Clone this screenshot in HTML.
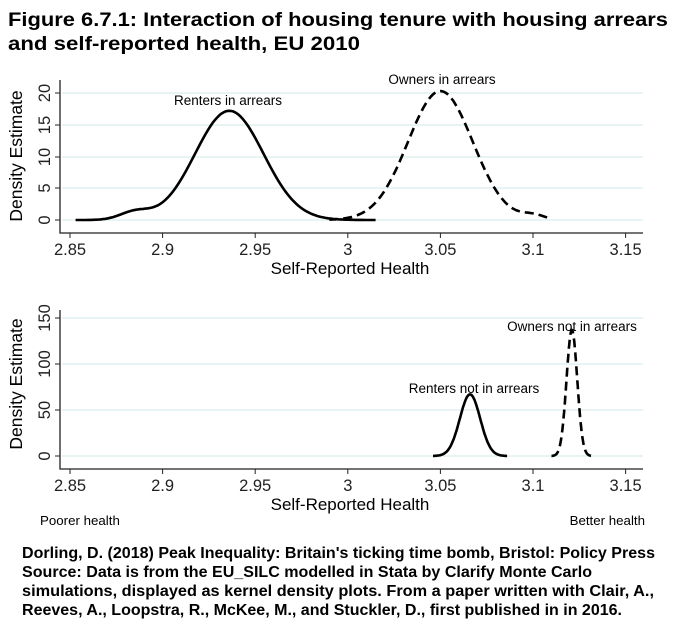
<!DOCTYPE html>
<html><head><meta charset="utf-8"><style>
body{margin:0;background:#fff;width:685px;height:624px;overflow:hidden}
svg text{font-family:"Liberation Sans",Arial,sans-serif}
</style></head><body>
<svg id="s" width="685" height="624" xmlns="http://www.w3.org/2000/svg">
<text x="8" y="26" font-size="19.5" font-weight="bold" textLength="660" lengthAdjust="spacingAndGlyphs">Figure 6.7.1: Interaction of housing tenure with housing arrears</text>
<text x="8" y="50" font-size="19.5" font-weight="bold" textLength="352" lengthAdjust="spacingAndGlyphs">and self-reported health, EU 2010</text>
<g stroke="#dbecee" stroke-width="1.2">
<line x1="62" x2="643" y1="220" y2="220"/><line x1="62" x2="643" y1="188" y2="188"/><line x1="62" x2="643" y1="157" y2="157"/><line x1="62" x2="643" y1="125" y2="125"/><line x1="62" x2="643" y1="93" y2="93"/>
<line x1="62" x2="643" y1="456" y2="456"/><line x1="62" x2="643" y1="410" y2="410"/><line x1="62" x2="643" y1="364" y2="364"/><line x1="62" x2="643" y1="318" y2="318"/>
</g>
<g stroke="#222" stroke-width="1.3" fill="none">
<path d="M60 80V233H643"/><path d="M60 310V469H643"/>
</g>
<g id="ticks" font-size="16.5" text-anchor="middle" fill="#222"></g>
<text x="350" y="274" font-size="17" text-anchor="middle">Self-Reported Health</text>
<text x="350" y="510" font-size="17" text-anchor="middle">Self-Reported Health</text>
<text x="22" y="156" font-size="17.5" text-anchor="middle" transform="rotate(-90 22 156)">Density Estimate</text>
<text x="22" y="384" font-size="17.5" text-anchor="middle" transform="rotate(-90 22 384)">Density Estimate</text>
<text x="228" y="105" font-size="13.5" text-anchor="middle">Renters in arrears</text>
<text x="442" y="84" font-size="13.5" text-anchor="middle">Owners in arrears</text>
<text x="474" y="393" font-size="13.5" text-anchor="middle">Renters not in arrears</text>
<text x="572" y="331" font-size="13.5" text-anchor="middle">Owners not in arrears</text>
<text x="40" y="525" font-size="13.3">Poorer health</text>
<text x="645" y="525" font-size="13.3" text-anchor="end">Better health</text>
<g font-size="15.5" font-weight="bold">
<text x="22" y="558" textLength="633" lengthAdjust="spacingAndGlyphs">Dorling, D. (2018) Peak Inequality: Britain's ticking time bomb, Bristol: Policy Press</text>
<text x="22" y="577" textLength="570" lengthAdjust="spacingAndGlyphs">Source: Data is from the EU_SILC modelled in Stata by Clarify Monte Carlo</text>
<text x="22" y="596" textLength="632" lengthAdjust="spacingAndGlyphs">simulations, displayed as kernel density plots. From a paper written with Clair, A.,</text>
<text x="22" y="615" textLength="600" lengthAdjust="spacingAndGlyphs">Reeves, A., Loopstra, R., McKee, M., and Stuckler, D., first published in in 2016.</text>
</g>
<g id="curves" fill="none" stroke="#000" stroke-width="2.6"></g>
</svg>
<script>
const NS="http://www.w3.org/2000/svg";
const X=v=>70+(v-2.85)/0.05*92.6;
const tk=document.getElementById('ticks');
function t(x,y,s,a,rot){const e=document.createElementNS(NS,'text');e.setAttribute('x',x);e.setAttribute('y',y);e.textContent=s;if(rot)e.setAttribute('transform',`rotate(-90 ${x} ${y})`);tk.appendChild(e);}
["2.85","2.9","2.95","3","3.05","3.1","3.15"].forEach(s=>{const x=X(+s);t(x,255,s);t(x,491,s);
const l=document.createElementNS(NS,'path');l.setAttribute('d',`M${x} 233v5M${x} 469v5`);l.setAttribute('stroke','#222');tk.appendChild(l);});
[[0,220],[5,188],[10,157],[15,125],[20,93]].forEach(([v,y])=>{t(50,y,v,0,1);const l=document.createElementNS(NS,'path');l.setAttribute('d',`M55 ${y}h5`);l.setAttribute('stroke','#222');tk.appendChild(l);});
[[0,456],[50,410],[100,364],[150,318]].forEach(([v,y])=>{t(50,y,v,0,1);const l=document.createElementNS(NS,'path');l.setAttribute('d',`M55 ${y}h5`);l.setAttribute('stroke','#222');tk.appendChild(l);});
const cv=document.getElementById('curves');
function curve(mu,sd,pk,a,b,y0,sc,dash,extra){let d='';for(let i=0;i<=120;i++){const v=a+(b-a)*i/120;let y=pk*Math.exp(-((v-mu)**2)/(2*sd*sd));if(extra)y+=extra(v);d+=(i?'L':'M')+X(v).toFixed(1)+' '+(y0-y*sc).toFixed(1);}
const p=document.createElementNS(NS,'path');p.setAttribute('d',d);if(dash)p.setAttribute('stroke-dasharray',dash);cv.appendChild(p);}
curve(2.936,0.0185,17.2,2.853,3.015,220,6.35,null,v=>1.2*Math.exp(-((v-2.885)**2)/(2*0.008**2)));
curve(3.05,0.0175,20.3,2.99,3.11,220,6.35,"9,5",v=>0.7*Math.exp(-((v-3.1)**2)/(2*0.006**2)));
curve(3.066,0.0055,67,3.046,3.086,456,0.92,null);
curve(3.121,0.0029,137,3.11,3.132,456,0.92,"9,5");
</script>
</body></html>
